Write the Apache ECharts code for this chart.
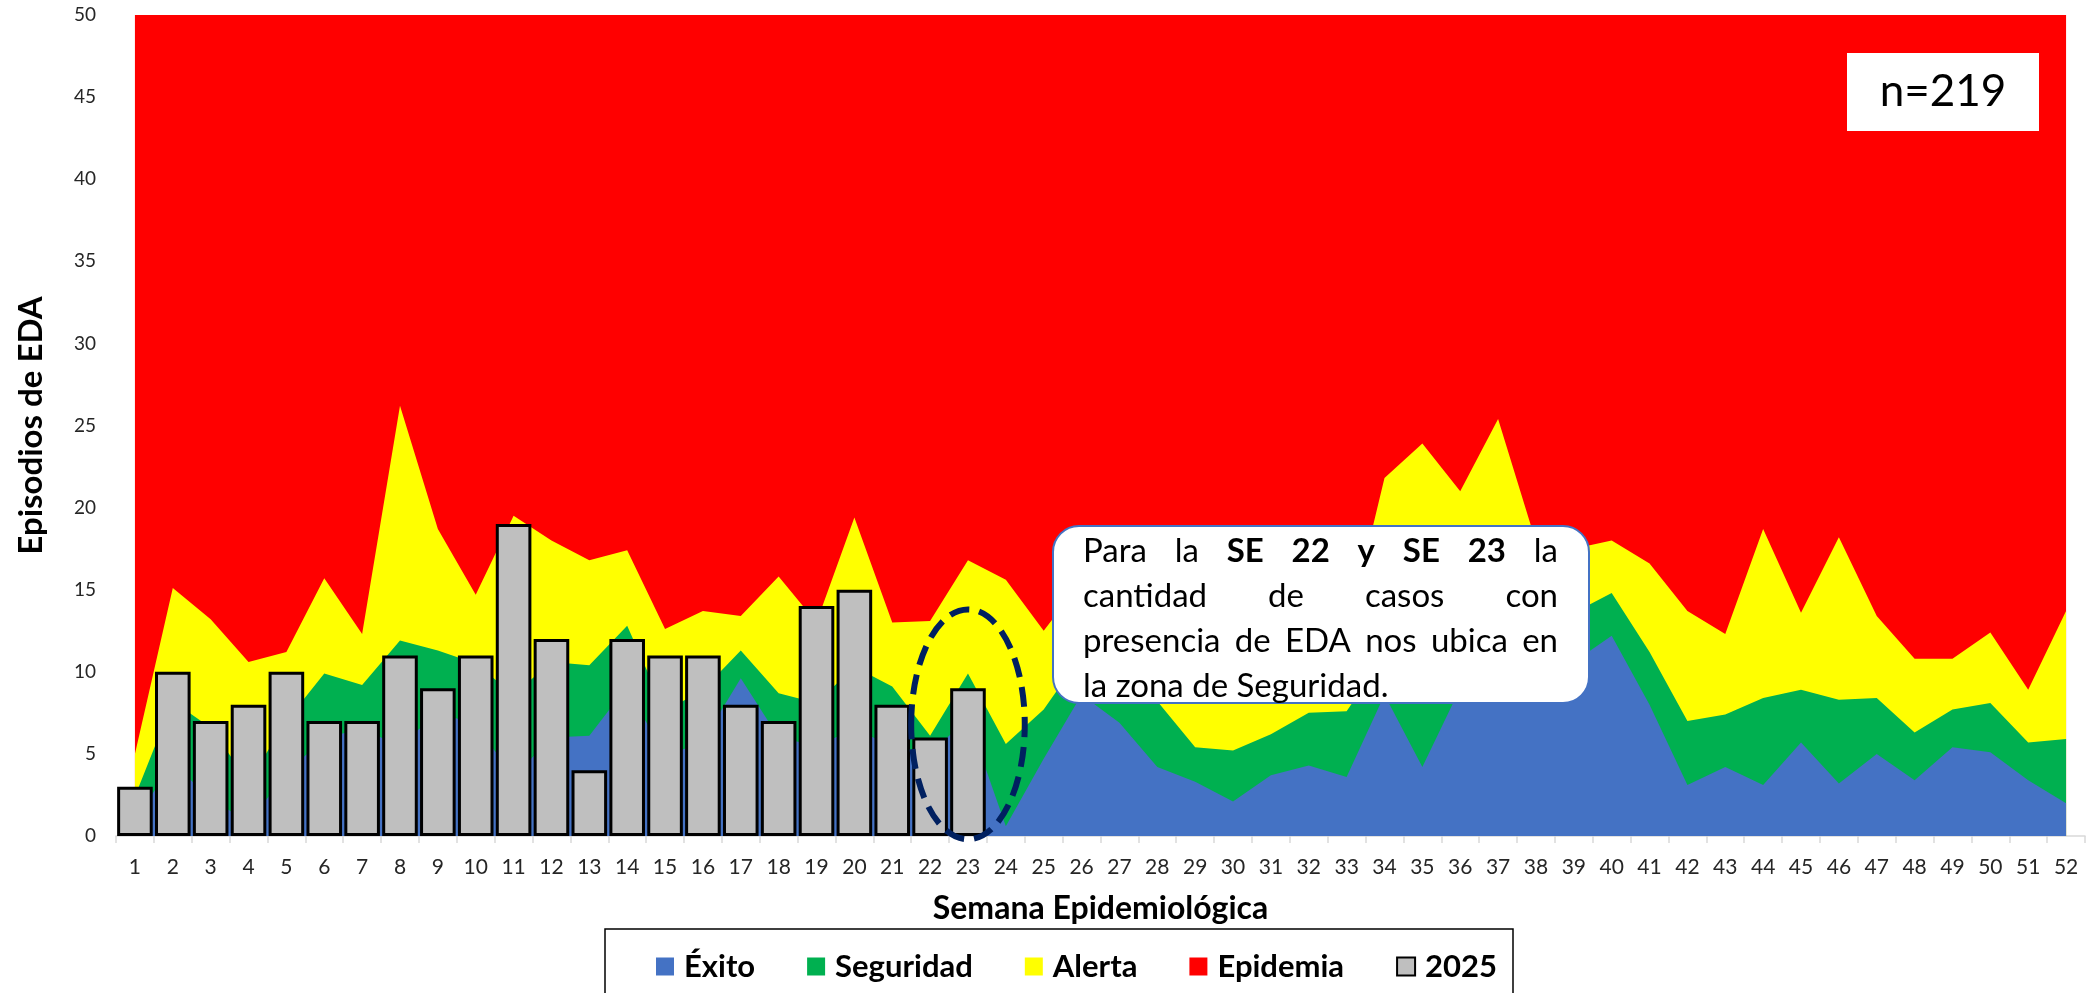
<!DOCTYPE html>
<html>
<head>
<meta charset="utf-8">
<title>Canal endémico EDA</title>
<script src="https://cdn.jsdelivr.net/npm/echarts@6/dist/echarts.min.js"></script>
<style>
html,body{margin:0;padding:0;background:#fff;}
#chart{width:2087px;height:993px;}
</style>
</head>
<body>
<div id="chart"></div>
<script>
const semanas = ['1','2','3','4','5','6','7','8','9','10','11','12','13','14','15','16','17','18','19','20','21','22','23','24','25','26',
  '27','28','29','30','31','32','33','34','35','36','37','38','39','40','41','42','43','44','45','46','47','48','49','50','51','52'];

// limites superiores de cada zona del canal endemico
const exito = [1.0, 4.4, 2.3, 0.8, 3.8, 6.0, 6.5, 5.5, 7.5, 6.8, 3.6, 6.0, 6.1, 9.1, 4.8, 5.8, 9.6, 6.0, 5.5, 6.5, 5.5, 5.0, 7.2, 0.6, 4.7, 8.6,
  6.9, 4.2, 3.3, 2.1, 3.7, 4.3, 3.6, 8.6, 4.2, 9.0, 9.5, 10.0, 10.6, 12.2, 8.0, 3.1, 4.2, 3.1, 5.7, 3.2, 5.0, 3.4, 5.4, 5.1, 3.4, 2.0];
const seguridad = [2.4, 8.2, 6.6, 3.3, 7.0, 9.9, 9.2, 11.9, 11.3, 10.5, 8.6, 10.6, 10.4, 12.8, 7.6, 8.9, 11.3, 8.7, 8.1, 10.3, 9.1, 6.1, 9.9, 5.6, 7.7, 11.0,
  10.0, 8.2, 5.4, 5.2, 6.2, 7.5, 7.6, 11.0, 10.0, 11.5, 12.5, 13.0, 13.6, 14.8, 11.2, 7.0, 7.4, 8.4, 8.9, 8.3, 8.4, 6.3, 7.7, 8.1, 5.7, 5.9];
const alerta = [5.0, 15.1, 13.2, 10.6, 11.2, 15.7, 12.3, 26.2, 18.7, 14.7, 19.5, 18.0, 16.8, 17.4, 12.6, 13.7, 13.4, 15.8, 13.0, 19.4, 13.0, 13.1, 16.8, 15.6, 12.5, 15.5,
  17.0, 15.0, 13.0, 12.5, 13.0, 12.5, 12.2, 21.8, 23.9, 21.0, 25.4, 17.9, 17.5, 18.0, 16.6, 13.7, 12.3, 18.7, 13.6, 18.2, 13.4, 10.8, 10.8, 12.4, 8.9, 13.7];
const epidemia = [50, 50, 50, 50, 50, 50, 50, 50, 50, 50, 50, 50, 50, 50, 50, 50, 50, 50, 50, 50, 50, 50, 50, 50, 50, 50,
  50, 50, 50, 50, 50, 50, 50, 50, 50, 50, 50, 50, 50, 50, 50, 50, 50, 50, 50, 50, 50, 50, 50, 50, 50, 50];
// casos 2025 hasta la SE 23
const casos2025 = [3, 10, 7, 8, 10, 7, 7, 11, 9, 11, 19, 12, 4, 12, 11, 11, 8, 7, 14, 15, 8, 6, 9];

const fuente = 'Lato, "Open Sans", sans-serif';

function zona(nombre, datos, color){
  return {
    name: nombre,
    type: 'line',
    z: 2,
    data: datos,
    showSymbol: false,
    symbol: 'none',
    lineStyle: {width: 0},
    itemStyle: {color: color},
    areaStyle: {color: color, opacity: 1}
  };
}

let myChart = echarts.init(document.getElementById('chart'));
myChart.setOption({
  animation: false,
  grid: {left: 116, right: 2, top: 15, bottom: 157},
  xAxis: {
    type: 'category',
    data: semanas,
    boundaryGap: true,
    axisLine: {lineStyle: {color: '#d9d9d9', width: 1.5}},
    axisTick: {show: true, length: 7, lineStyle: {color: '#d9d9d9', width: 1.5}},
    axisLabel: {fontSize: 21, color: '#262626', margin: 21, fontFamily: fuente},
    name: 'Semana Epidemiológica',
    nameLocation: 'middle',
    nameGap: 57,
    nameTextStyle: {fontSize: 32, fontWeight: 'bold', color: '#000', fontFamily: fuente}
  },
  yAxis: {
    type: 'value',
    min: 0,
    max: 50,
    interval: 5,
    splitLine: {show: false},
    axisLine: {show: false},
    axisTick: {show: false},
    axisLabel: {fontSize: 19, color: '#262626', margin: 20, fontFamily: fuente},
    name: 'Episodios de EDA',
    nameLocation: 'middle',
    nameGap: 68,
    nameTextStyle: {fontSize: 33, fontWeight: 'bold', color: '#000', fontFamily: fuente}
  },
  legend: {
    left: 605,
    top: 929,
    icon: 'rect',
    itemWidth: 18,
    itemHeight: 18,
    itemGap: 52,
    padding: [22, 16, 24, 51],
    borderColor: '#000',
    borderWidth: 1.5,
    selectedMode: false,
    data: ['Éxito', 'Seguridad', 'Alerta', 'Epidemia', '2025'],
    textStyle: {fontSize: 31, fontWeight: 'bold', color: '#000', fontFamily: fuente, padding: [0, 0, 0, 5]}
  },
  series: [
    zona('Epidemia', epidemia, '#ff0000'),
    zona('Alerta', alerta, '#ffff00'),
    zona('Seguridad', seguridad, '#00b050'),
    zona('Éxito', exito, '#4472c4'),
    {
      name: '2025',
      type: 'bar',
      z: 5,
      data: casos2025,
      barCategoryGap: '6%',
      itemStyle: {color: '#bfbfbf', borderColor: '#000', borderWidth: 3}
    }
  ]
});

// anotaciones: recuadro n, nota justificada y elipse punteada en SE 22-23
const ctx = document.createElement('canvas').getContext('2d');
const tamNota = 33;
function ancho(txt, negrita){
  ctx.font = (negrita ? 'bold ' : '') + tamNota + 'px ' + fuente;
  return ctx.measureText(txt).width;
}
const lineasNota = [
  [['Para', 0], ['la', 0], ['SE', 1], ['22', 1], ['y', 1], ['SE', 1], ['23', 1], ['la', 0]],
  [['cantidad', 0], ['de', 0], ['casos', 0], ['con', 0]],
  [['presencia', 0], ['de', 0], ['EDA', 0], ['nos', 0], ['ubica', 0], ['en', 0]],
  [['la zona de Seguridad.', 0]]
];
const notaX0 = 1083, notaX1 = 1558, notaY0 = 551, notaPaso = 45;
let graficos = [
  {type: 'rect', shape: {x: 1847, y: 53, width: 192, height: 78}, style: {fill: '#fff'}, z: 100},
  {type: 'text', x: 1943, y: 92, style: {text: 'n=219', fontSize: 44, fontFamily: fuente, fill: '#000', align: 'center', verticalAlign: 'middle'}, z: 101},
  {type: 'rect', shape: {x: 1053, y: 526, width: 536, height: 177, r: 26}, style: {fill: '#fff', stroke: '#4472c4', lineWidth: 2}, z: 100}
];
lineasNota.forEach(function(linea, i){
  let total = 0;
  linea.forEach(function(p){ total += ancho(p[0], p[1]); });
  let hueco = linea.length > 1 && i < lineasNota.length - 1 ? (notaX1 - notaX0 - total) / (linea.length - 1) : 0;
  let x = notaX0;
  linea.forEach(function(p){
    graficos.push({
      type: 'text', x: x, y: notaY0 + i * notaPaso, z: 101,
      style: {text: p[0], fontSize: tamNota, fontWeight: p[1] ? 'bold' : 'normal', fontFamily: fuente, fill: '#000', align: 'left', verticalAlign: 'middle'}
    });
    x += ancho(p[0], p[1]) + hueco;
  });
});
const centro = myChart.convertToPixel({gridIndex: 0}, [22, 6.8]);
const banda = myChart.convertToPixel({gridIndex: 0}, [23, 0])[0] - myChart.convertToPixel({gridIndex: 0}, [22, 0])[0];
const altoUnidad = myChart.convertToPixel({gridIndex: 0}, [0, 0])[1] - myChart.convertToPixel({gridIndex: 0}, [0, 1])[1];
graficos.push({
  type: 'ellipse', z: 102,
  shape: {cx: centro[0], cy: centro[1], rx: banda * 1.5, ry: altoUnidad * 7},
  style: {fill: 'none', stroke: '#002060', lineWidth: 6, lineDash: [20, 10]}
});
myChart.setOption({graphic: graficos});
</script>
</body>
</html>
